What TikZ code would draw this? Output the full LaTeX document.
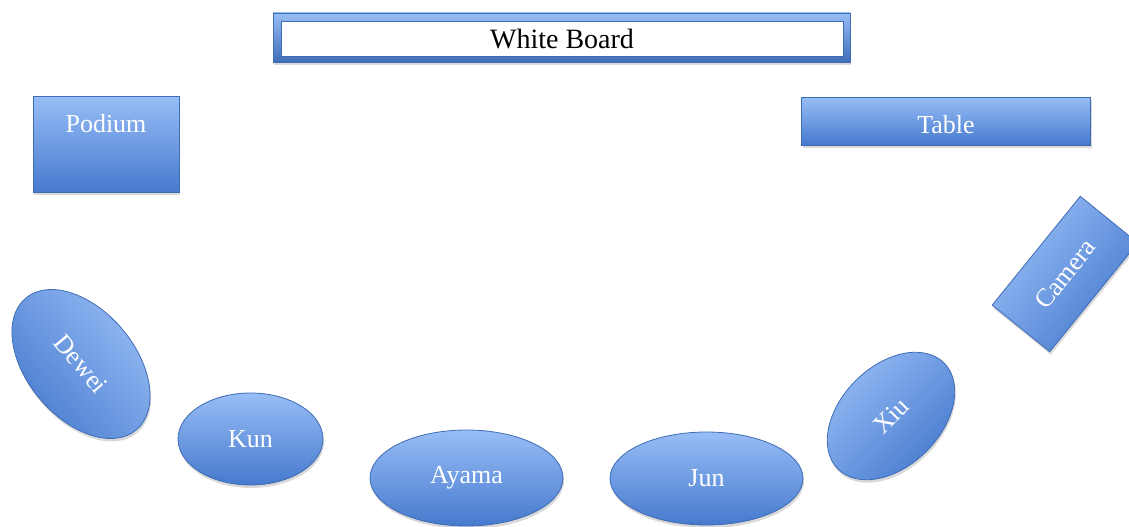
\documentclass[tikz,border=0pt]{standalone}
\usepackage{fontspec}
\setmainfont{Liberation Serif}
\usetikzlibrary{shapes.geometric,shadows}
\definecolor{gtop}{RGB}{152,189,246}
\definecolor{gbot}{RGB}{70,122,206}
\definecolor{gedge}{RGB}{62,108,180}
\tikzset{
  obj/.style={draw=gedge, line width=0.8pt, top color=gtop, bottom color=gbot,
    text=white, font=\fontsize{26}{30}\selectfont, inner sep=0pt,
    drop shadow={shadow xshift=1pt, shadow yshift=-3pt, opacity=0.3}},
  box/.style={obj, rectangle},
  oval/.style={obj, ellipse},
}
\begin{document}
\begin{tikzpicture}[x=1pt,y=-1pt]
\useasboundingbox (0,0) rectangle (1129,527);
% White board
\node[draw=gedge, line width=0.8pt, top color=gtop, bottom color=gbot!90!black,
  minimum width=577pt, minimum height=49pt, inner sep=0pt,
  drop shadow={shadow xshift=1pt, shadow yshift=-3pt, opacity=0.3}] (wbframe) at (561.5,37.5) {};
\node[draw=gedge, line width=0.6pt, fill=white, minimum width=562pt, minimum height=35pt,
  inner sep=0pt, font=\fontsize{28}{32}\selectfont] (wb) at (562,38.5) {White Board};
% Podium
\node[box, minimum width=146pt, minimum height=96pt] (podium) at (106,144) {};
\node[text=white, font=\fontsize{26}{30}\selectfont, inner sep=0pt] (podiumtxt) at (106,124) {Podium};
% Table
\node[box, minimum width=289pt, minimum height=48pt] (table) at (946,121) {\raisebox{-3pt}[\height][0pt]{Table}};
% Camera
\node[box, rotate=51, shading angle=51, minimum width=140pt, minimum height=74pt] (camera) at (1065,274) {Camera};
% People
\node[oval, rotate=-50, shading angle=-50, minimum width=172pt, minimum height=108pt] (dewei) at (81,364) {Dewei};
\node[oval, minimum width=145pt, minimum height=92pt] (kun) at (250.5,439) {Kun};
\node[oval, minimum width=193pt, minimum height=96pt] (ayama) at (466.5,478) {Ayama};
\node[oval, minimum width=193pt, minimum height=93pt] (jun) at (706.5,478.5) {Jun};
\node[oval, rotate=45, shading angle=45, minimum width=150pt, minimum height=100pt] (xiu) at (891,416) {Xiu};
\end{tikzpicture}
\end{document}
